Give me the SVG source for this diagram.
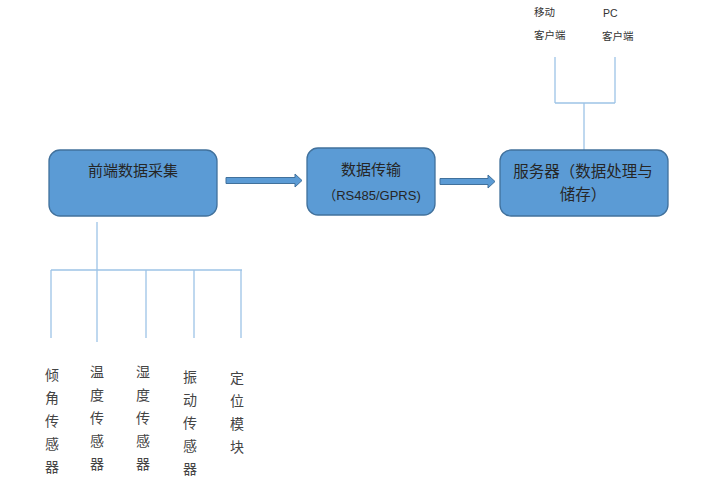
<svg xmlns="http://www.w3.org/2000/svg" width="720" height="488" viewBox="0 0 720 488">
<style>
.box{fill:#5B9BD5;stroke:#41719C;stroke-width:1.3}
.arrow{fill:#5B9BD5;stroke:#41719C;stroke-width:1}
.ln{stroke:#9DC3E6;stroke-width:1.3;fill:none}
.cn{font-family:"Liberation Serif","Noto Sans CJK SC",serif;font-size:15px;fill:#262626;text-anchor:middle}
.en{font-family:"Liberation Sans","Noto Sans CJK SC",sans-serif;font-size:13px;fill:#262626;text-anchor:middle}
.sm{font-family:"Liberation Sans","Noto Sans CJK SC",sans-serif;font-size:10.5px;fill:#333}
.sv{font-family:"Liberation Serif","Noto Sans CJK SC",serif;font-size:14px;fill:#444;text-anchor:middle}
</style>
<rect width="720" height="488" fill="#fff"/>
<g id="connectors">
<line class="ln" x1="97" y1="222" x2="97" y2="342"/>
<line class="ln" x1="51" y1="270" x2="242" y2="270"/>
<line class="ln" x1="51" y1="270" x2="51" y2="338"/>
<line class="ln" x1="146" y1="270" x2="146" y2="338"/>
<line class="ln" x1="194" y1="270" x2="194" y2="338"/>
<line class="ln" x1="241" y1="270" x2="241" y2="338"/>
<line class="ln" x1="584" y1="150" x2="584" y2="103"/>
<line class="ln" x1="555" y1="103" x2="615" y2="103"/>
<line class="ln" x1="555" y1="103" x2="555" y2="57"/>
<line class="ln" x1="615" y1="103" x2="615" y2="57"/>
<path class="arrow" d="M226,177.5 H295 V174 L302,180.5 L295,187 V183.5 H226 Z"/>
<path class="arrow" d="M440,178.5 H488 V175 L495,181.5 L488,188 V184.5 H440 Z"/>
</g>
<g id="node-frontend">
<rect class="box" x="49" y="150" width="168" height="66" rx="11"/>
<text class="cn" x="133" y="176">前端数据采集</text>
</g>
<g id="node-transfer">
<rect class="box" x="307" y="148" width="128" height="67" rx="11"/>
<text class="cn" x="371" y="175">数据传输</text>
<text class="en" x="372" y="200">（RS485/GPRS)</text>
</g>
<g id="node-server">
<rect class="box" x="500" y="150" width="168" height="66" rx="11"/>
<text class="cn" x="583" y="177" style="font-size:15.5px">服务器（数据处理与</text>
<text class="cn" x="583" y="200" style="font-size:15.5px">储存）</text>
</g>
<g id="node-mobile">
<text class="sm" x="534" y="16">移动</text>
<text class="sm" x="534" y="39">客户端</text>
</g>
<g id="node-pc">
<text class="sm" x="603" y="17">PC</text>
<text class="sm" x="602" y="40">客户端</text>
</g>
<g id="node-tilt">
<text class="sv" x="52" y="380">倾</text>
<text class="sv" x="52" y="403">角</text>
<text class="sv" x="52" y="426">传</text>
<text class="sv" x="52" y="449">感</text>
<text class="sv" x="52" y="472">器</text>
</g>
<g id="node-temp">
<text class="sv" x="97" y="377">温</text>
<text class="sv" x="97" y="400">度</text>
<text class="sv" x="97" y="423">传</text>
<text class="sv" x="97" y="446">感</text>
<text class="sv" x="97" y="469">器</text>
</g>
<g id="node-humid">
<text class="sv" x="143" y="377">湿</text>
<text class="sv" x="143" y="400">度</text>
<text class="sv" x="143" y="423">传</text>
<text class="sv" x="143" y="446">感</text>
<text class="sv" x="143" y="469">器</text>
</g>
<g id="node-vib">
<text class="sv" x="190" y="382">振</text>
<text class="sv" x="190" y="405">动</text>
<text class="sv" x="190" y="428">传</text>
<text class="sv" x="190" y="451">感</text>
<text class="sv" x="190" y="474">器</text>
</g>
<g id="node-pos">
<text class="sv" x="237" y="383">定</text>
<text class="sv" x="237" y="406">位</text>
<text class="sv" x="237" y="429">模</text>
<text class="sv" x="237" y="452">块</text>
</g>
</svg>
